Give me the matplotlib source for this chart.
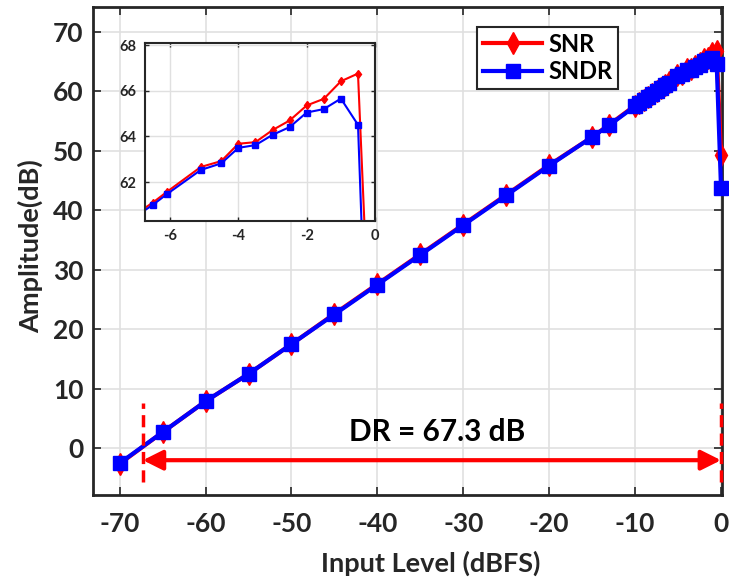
import matplotlib
matplotlib.use("Agg")
import matplotlib.pyplot as plt

plt.rcParams["font.family"] = ["Lato", "DejaVu Sans"]
plt.rcParams["font.weight"] = "bold"
plt.rcParams["axes.unicode_minus"] = False

INK = "#262626"
GRID = "#e0e0e0"
RED, BLUE = "#ff0000", "#0000ff"

# Input level (dBFS) and measured SNR / SNDR (dB)
level = [-70, -65, -60, -55, -50, -45, -40, -35, -30, -25, -20, -15, -13,
         -10, -9.5, -9, -8.5, -8, -7.5, -7, -6.5,
         -6.1, -5.1, -4.5, -4, -3.5, -3, -2.5, -2, -1.5, -1, -0.5, 0]
snr = [-2.6, 2.7, 7.9, 12.5, 17.5, 22.6, 27.6, 32.6, 37.6, 42.6, 47.6, 52.3, 54.4,
       57.6, 58.1, 58.6, 59.1, 59.6, 60.1, 60.6, 61.1,
       61.56, 62.66, 62.92, 63.68, 63.75, 64.28, 64.70, 65.36, 65.65, 66.42, 66.76, 49.3]
sndr = [-2.5, 2.7, 7.9, 12.5, 17.5, 22.5, 27.5, 32.5, 37.5, 42.5, 47.5, 52.3, 54.3,
        57.5, 58.0, 58.5, 59.0, 59.5, 60.0, 60.5, 61.0,
        61.46, 62.53, 62.82, 63.50, 63.62, 64.07, 64.41, 65.05, 65.20, 65.66, 64.51, 43.8]

DR = 67.3
DR_LOW = -DR

fig = plt.figure(figsize=(7.29, 5.81), dpi=100)
ax = fig.add_axes([0.1276, 0.148, 0.8632, 0.8394])

ax.plot(level, snr, color=RED, lw=3, marker="d", ms=11, label="SNR",
        zorder=3, clip_on=False)
ax.plot(level, sndr, color=BLUE, lw=3, marker="s", ms=10, label="SNDR",
        zorder=4, clip_on=False)

ax.set_xlim(-73.1, 0.15)
ax.set_ylim(-7.85, 74.1)
ax.set_xticks(range(-70, 1, 10))
ax.set_yticks(range(0, 71, 10))
ax.grid(True, color=GRID, lw=1.2)
ax.set_axisbelow(True)
ax.tick_params(axis="both", direction="in", top=True, right=True, length=6,
               width=1.2, labelsize=19, colors=INK)
ax.tick_params(axis="x", pad=12)
ax.tick_params(axis="y", pad=7)
for s in ax.spines.values():
    s.set_linewidth(2)
    s.set_color(INK)
ax.set_xlabel("Input Level (dBFS)", fontsize=19.5, fontweight="bold", color=INK)
ax.set_ylabel("Amplitude(dB)", fontsize=19.5, fontweight="bold", color=INK)
ax.xaxis.set_label_coords(0.537, -0.114)
ax.yaxis.set_label_coords(-0.079, 0.51)

# Dynamic range annotation
for xv in (DR_LOW, 0):
    ax.plot([xv, xv], [-5.6, 7.6], color=RED, lw=2.5, ls=(0, (3.5, 1.8)),
            zorder=5, clip_on=False)
ax.annotate("", xy=(0, -2.0), xytext=(DR_LOW, -2.0),
            arrowprops=dict(arrowstyle="<|-|>", color=RED, lw=3,
                            mutation_scale=30, shrinkA=0, shrinkB=0), zorder=5)
ax.text(-33.1, 2.8, f"DR = {DR} dB", ha="center", va="center",
        fontsize=21.5, fontweight="bold", color="black")

leg = ax.legend(loc="upper right", bbox_to_anchor=(0.8347, 0.9602),
                borderaxespad=0, fontsize=17, frameon=True, fancybox=False,
                handlelength=2.5, borderpad=0.25, labelspacing=0.2,
                handletextpad=0.25)
leg.get_frame().set_edgecolor(INK)
leg.get_frame().set_linewidth(1.5)
leg.get_frame().set_alpha(1)
for t in leg.get_texts():
    t.set_fontweight("bold")

# Zoomed inset of the top end
ins = fig.add_axes([0.199, 0.620, 0.3155, 0.306])
ins.plot(level, snr, color=RED, lw=1.5, marker="d", ms=4.5)
ins.plot(level, sndr, color=BLUE, lw=1.5, marker="s", ms=4)
ins.set_xlim(-6.73, 0)
ins.set_ylim(60.3, 68.1)
ins.set_xticks([-6, -4, -2, 0])
ins.set_yticks([62, 64, 66, 68])
ins.grid(True, color=GRID, lw=1)
ins.set_axisbelow(True)
ins.tick_params(direction="in", top=True, right=True, length=3, width=1,
                labelsize=10.5, colors=INK, pad=6)
for s in ins.spines.values():
    s.set_linewidth(1.5)
    s.set_color(INK)

fig.savefig("out.png", dpi=100)
